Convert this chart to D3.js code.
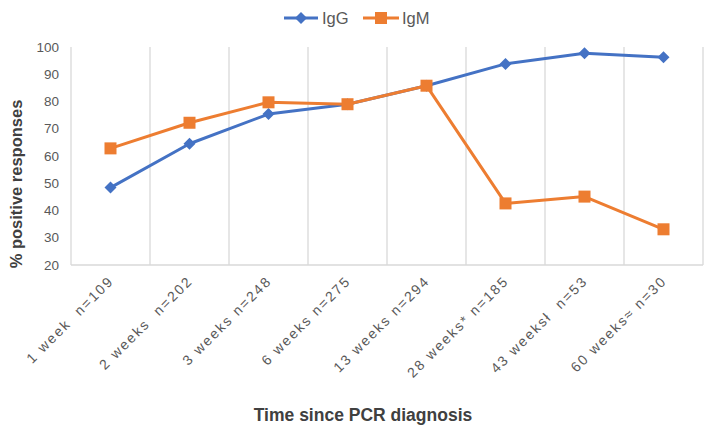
<!DOCTYPE html>
<html><head><meta charset="utf-8">
<script src="https://cdn.jsdelivr.net/npm/d3@7"></script>
<style>body{margin:0;background:#fff}svg{display:block;font-family:"Liberation Sans",Arial,sans-serif}</style>
</head><body><svg id="c" width="708" height="427"></svg>
<script>
const categories = ["1 week  n=109","2 weeks  n=202","3 weeks n=248","6 weeks n=275","13 weeks n=294","28 weeks* n=185","43 weeksł  n=53","60 weeks\u2248 n=30"];
const igg = [48.4, 64.5, 75.4, 79.0, 85.8, 93.8, 97.7, 96.2];
const igm = [62.8, 72.2, 79.7, 79.0, 85.8, 42.6, 45.1, 33.1];
const yTicks = [20,30,40,50,60,70,80,90,100];
const seriesNames = ["IgG", "IgM"];

const svg = d3.select("#c");
const L = 71, R = 703, T = 47, B = 265;
const x = d3.scaleBand().domain(categories).range([L, R]);
const y = d3.scaleLinear().domain([20, 100]).range([B, T]);
const grid = "#d9d9d9";
const blue = "#4472C4", orange = "#ED7D31";

const diamond = s => `M0,${-s}L${s},0L0,${s}L${-s},0Z`;

// vertical gridlines at band boundaries
const bounds = categories.map(c => x(c)).concat([R]);
svg.append("g").selectAll("line").data(bounds).join("line")
  .attr("x1", d => d).attr("x2", d => d).attr("y1", T).attr("y2", B)
  .attr("stroke", grid).attr("stroke-width", 1.3);
svg.append("line").attr("x1", L).attr("x2", R).attr("y1", B).attr("y2", B)
  .attr("stroke", grid).attr("stroke-width", 1.3);

// y tick labels
svg.append("g").selectAll("text").data(yTicks).join("text")
  .attr("x", 59).attr("y", d => y(d)).attr("dy", "0.35em")
  .attr("text-anchor", "end").attr("font-size", 13.5).attr("fill", "#595959")
  .text(d => d);

// x tick labels rotated
svg.append("g").selectAll("text").data(categories).join("text")
  .attr("transform", d => `translate(${x(d) + x.bandwidth()/2 + 4},${B + 17}) rotate(-45)`)
  .attr("text-anchor", "end").attr("font-size", 14).attr("letter-spacing", 1.9).attr("fill", "#595959")
  .attr("xml:space", "preserve")
  .text(d => d);

const cx = (d, i) => x(categories[i]) + x.bandwidth()/2;
const line = d3.line().x((d, i) => cx(d, i)).y(d => y(d));

// IgG
svg.append("path").datum(igg).attr("d", line).attr("fill", "none")
  .attr("stroke", blue).attr("stroke-width", 3).attr("stroke-linejoin", "round");
svg.append("g").selectAll("path").data(igg).join("path")
  .attr("d", diamond(6))
  .attr("transform", (d, i) => `translate(${cx(d, i)},${y(d)})`)
  .attr("fill", blue);

// IgM
svg.append("path").datum(igm).attr("d", line).attr("fill", "none")
  .attr("stroke", orange).attr("stroke-width", 3).attr("stroke-linejoin", "round");
svg.append("g").selectAll("rect").data(igm).join("rect")
  .attr("x", (d, i) => cx(d, i) - 6).attr("y", d => y(d) - 6)
  .attr("width", 12).attr("height", 12).attr("fill", orange);

// legend
const lg = svg.append("g");
const ly = 18;
lg.append("line").attr("x1", 284).attr("x2", 318).attr("y1", ly).attr("y2", ly).attr("stroke", blue).attr("stroke-width", 3);
lg.append("path").attr("d", diamond(6)).attr("transform", `translate(301,${ly})`).attr("fill", blue);
lg.append("text").attr("x", 322).attr("y", ly).attr("dy", "0.35em").attr("font-size", 16.5).attr("fill", "#595959").text(seriesNames[0]);
lg.append("line").attr("x1", 363).attr("x2", 399).attr("y1", ly).attr("y2", ly).attr("stroke", orange).attr("stroke-width", 3);
lg.append("rect").attr("x", 375).attr("y", ly - 6).attr("width", 12).attr("height", 12).attr("fill", orange);
lg.append("text").attr("x", 402).attr("y", ly).attr("dy", "0.35em").attr("font-size", 16.5).attr("fill", "#595959").text(seriesNames[1]);

// axis titles
svg.append("text").attr("transform", "translate(22,184) rotate(-90)")
  .attr("text-anchor", "middle").attr("font-size", 16.5).attr("font-weight", "bold").attr("fill", "#404040")
  .text("% positive responses");
svg.append("text").attr("x", 363).attr("y", 421)
  .attr("text-anchor", "middle").attr("font-size", 17.5).attr("font-weight", "bold").attr("fill", "#404040")
  .text("Time since PCR diagnosis");
</script></body></html>
